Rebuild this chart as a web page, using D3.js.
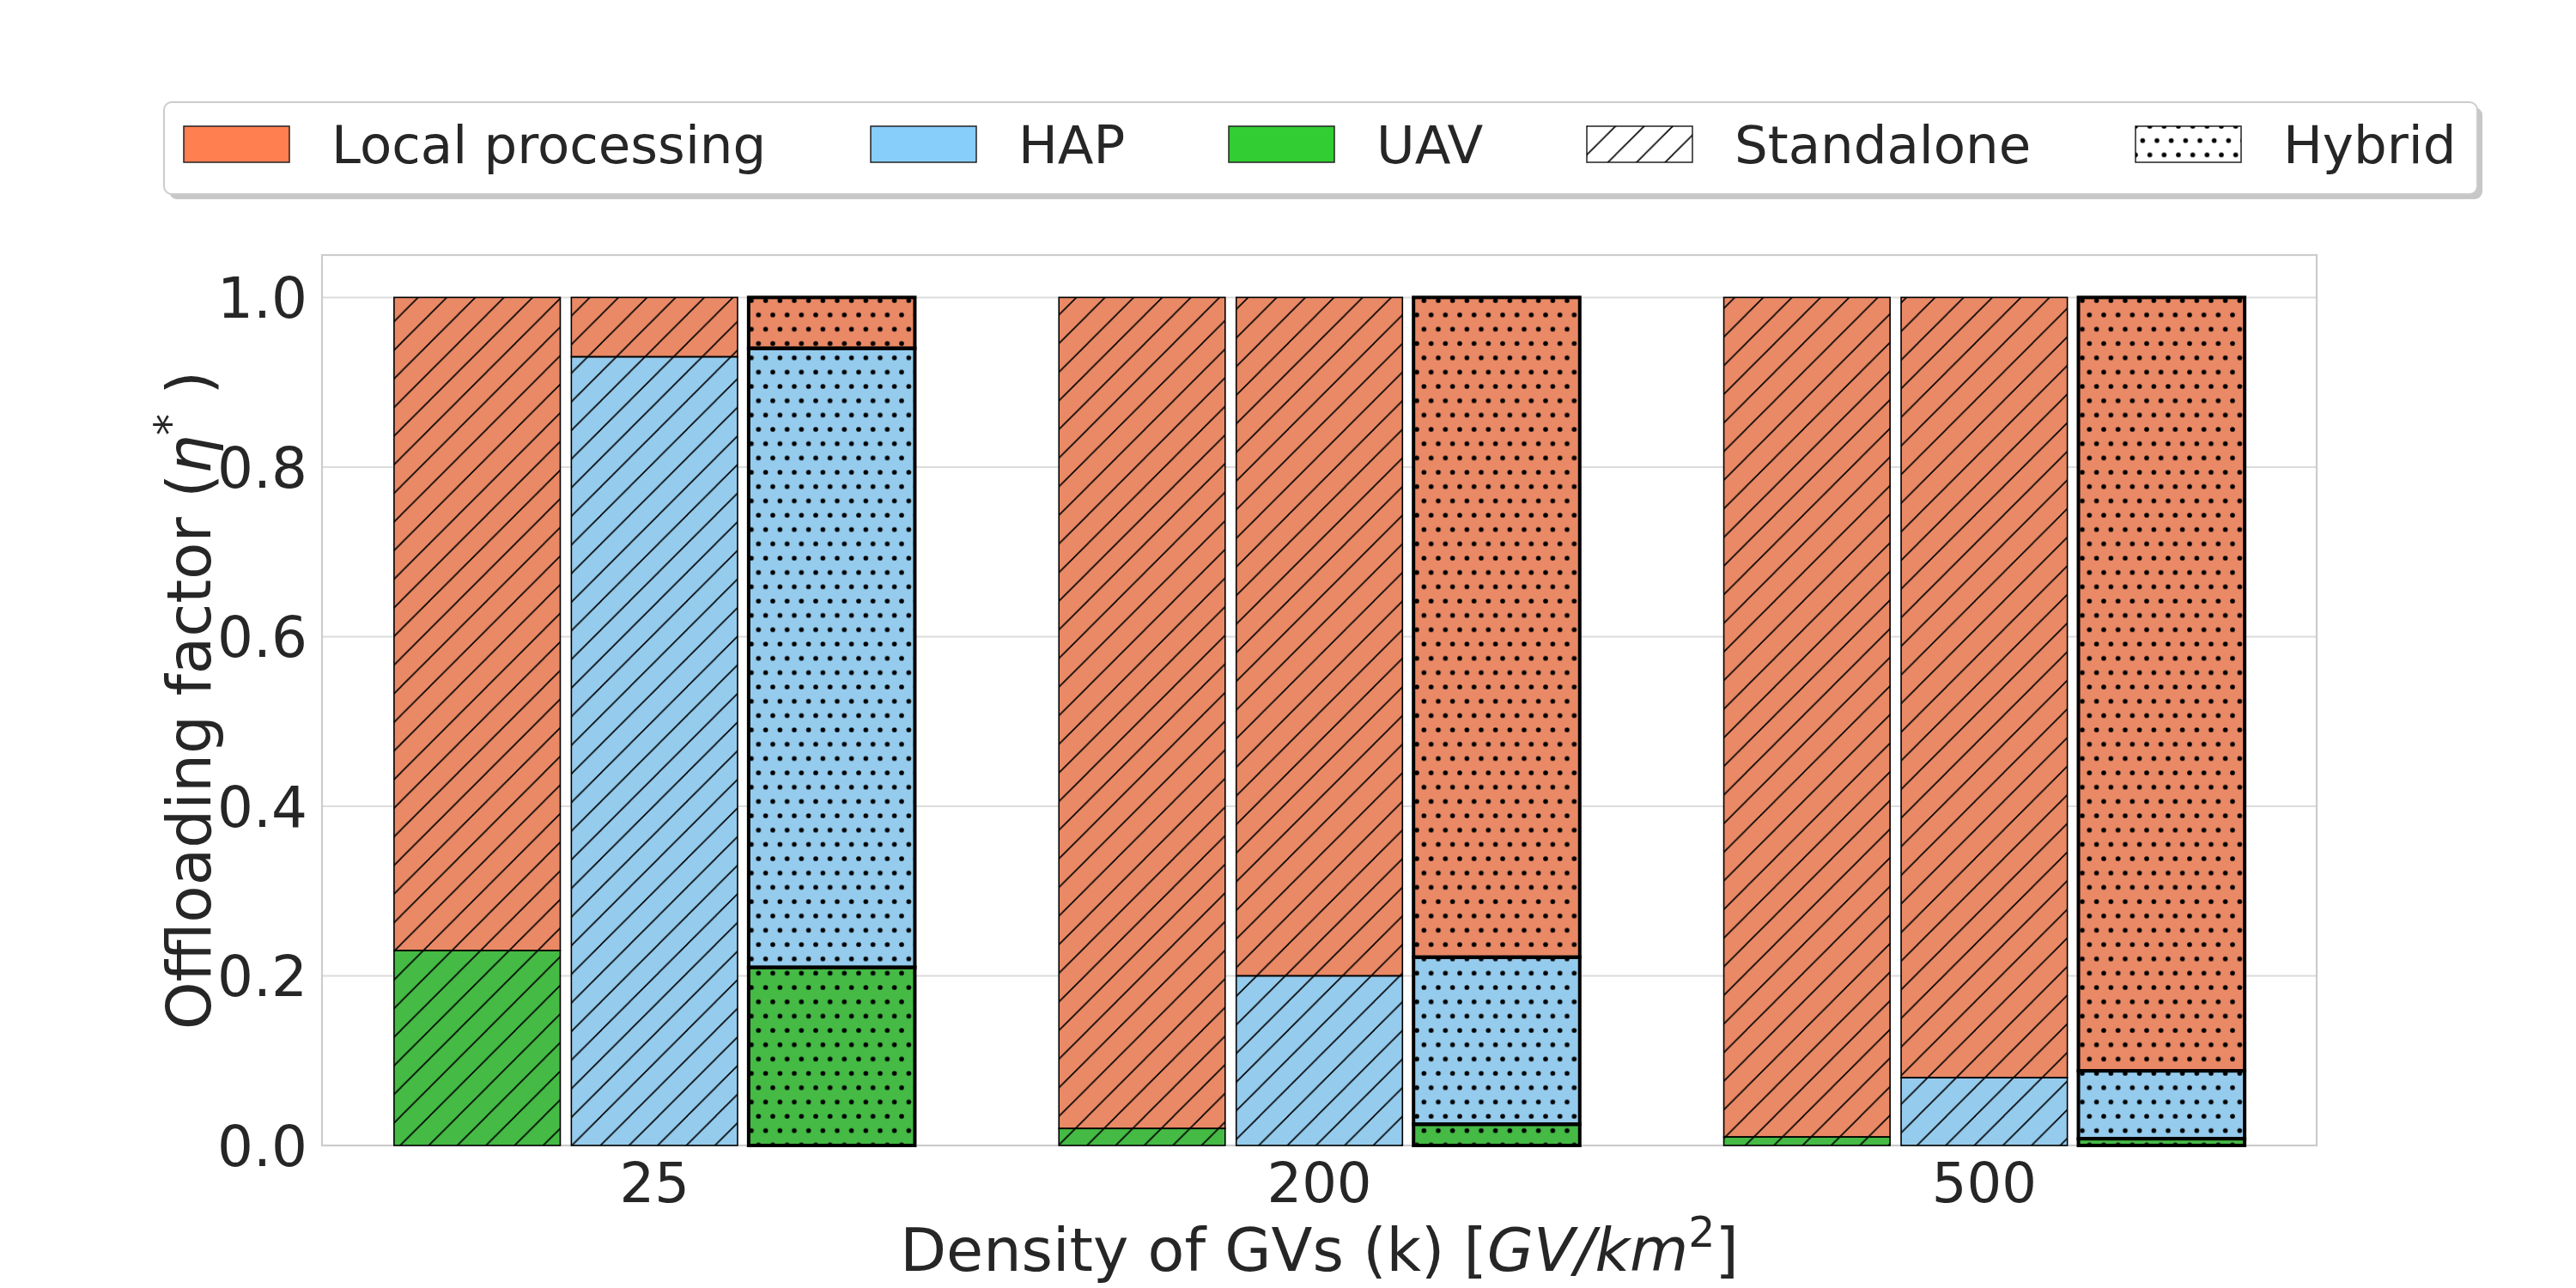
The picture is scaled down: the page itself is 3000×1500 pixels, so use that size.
<!DOCTYPE html>
<html lang="en">
<head>
    <meta charset="UTF-8">
    <title>Offloading factor vs density of GVs</title>
    <script src="https://cdnjs.cloudflare.com/ajax/libs/d3/7.8.5/d3.min.js"></script>
    <style>
        body {
            margin: 0;
            background: #fff;
        }
        svg text {
            font-family: "DejaVu Sans", sans-serif;
            fill: #262626;
        }
    </style>
</head>
<body>
    <svg id="chart" width="3000" height="1500"></svg>

    <script>
        // data
        const densities = ["25", "200", "500"];
        const setups = ["Standalone UAV", "Standalone HAP", "Hybrid"];
        const uavStandalone = [0.23, 0.02, 0.01];
        const hapStandalone = [0.93, 0.20, 0.08];
        const uavHybrid = [0.21, 0.025, 0.008];
        const hapHybrid = [0.73, 0.197, 0.08];
        const yTicks = [0, 0.2, 0.4, 0.6, 0.8, 1.0];

        const legendItems = ["Local processing", "HAP", "UAV", "Standalone", "Hybrid"];
        const baseColors = { Local: "#FF7F50", HAP: "#87CEFA", UAV: "#32CD32" };

        // seaborn barplot desaturates to 0.75
        const desat = c => { const h = d3.hsl(c); h.s *= 0.75; return h.formatHex(); };

        const svg = d3.select("#chart");
        const margin = { left: 375, right: 302, top: 297, bottom: 166 };
        const W = 3000, H = 1500;

        const x = d3.scaleBand()
            .domain(densities)
            .range([margin.left, W - margin.right])
            .padding(0);
        const unit = x.bandwidth();

        const xInner = d3.scaleBand()
            .domain(setups)
            .range([-0.4 * unit, 0.4 * unit])
            .paddingInner(0.0625)
            .paddingOuter(0.03125);

        const y = d3.scaleLinear()
            .domain([0, 1.05])
            .range([H - margin.bottom, margin.top]);

        // hatch patterns
        const defs = svg.append("defs");
        const hs = 200 / 6; // hatch spacing in px
        const diag = defs.append("pattern")
            .attr("id", "hatch-diag")
            .attr("patternUnits", "userSpaceOnUse")
            .attr("width", hs).attr("height", hs);
        [[0, hs, hs, 0], [-hs, hs, hs, -hs], [0, 2 * hs, 2 * hs, 0]].forEach(l => {
            diag.append("line")
                .attr("x1", l[0]).attr("y1", l[1]).attr("x2", l[2]).attr("y2", l[3])
                .attr("stroke", "#000").attr("stroke-width", 1.6);
        });

        const ds = 200 / 12;
        const dots = defs.append("pattern")
            .attr("id", "hatch-dots")
            .attr("patternUnits", "userSpaceOnUse")
            .attr("width", ds).attr("height", 2 * ds);
        [[0, 0], [ds, 0], [0, 2 * ds], [ds, 2 * ds], [ds / 2, ds]].forEach(p => {
            dots.append("circle").attr("cx", p[0]).attr("cy", p[1]).attr("r", 2.8).attr("fill", "#000");
        });

        // grid and frame
        svg.append("g")
            .selectAll("line")
            .data(yTicks)
            .join("line")
            .attr("x1", margin.left).attr("x2", W - margin.right)
            .attr("y1", d => y(d)).attr("y2", d => y(d))
            .attr("stroke", "#dcdcdc").attr("stroke-width", 2);

        svg.append("rect")
            .attr("x", margin.left).attr("y", margin.top)
            .attr("width", W - margin.right - margin.left)
            .attr("height", H - margin.bottom - margin.top)
            .attr("fill", "none").attr("stroke", "#cccccc").attr("stroke-width", 2.2);

        // build the stacked segments
        const segments = [];
        densities.forEach((dens, i) => {
            const stacks = {
                "Standalone UAV": [["UAV", uavStandalone[i]], ["Local", 1 - uavStandalone[i]]],
                "Standalone HAP": [["HAP", hapStandalone[i]], ["Local", 1 - hapStandalone[i]]],
                "Hybrid": [["UAV", uavHybrid[i]], ["HAP", hapHybrid[i]], ["Local", 1 - uavHybrid[i] - hapHybrid[i]]]
            };
            setups.forEach(s => {
                let acc = 0;
                stacks[s].forEach(([key, v]) => {
                    segments.push({ dens, setup: s, key, y0: acc, y1: acc + v });
                    acc += v;
                });
            });
        });

        const barX = d => x(d.dens) + unit / 2 + xInner(d.setup);
        const bw = xInner.bandwidth();

        const bars = svg.append("g");
        bars.selectAll("rect.fill")
            .data(segments)
            .join("rect")
            .attr("class", "fill")
            .attr("x", barX).attr("width", bw)
            .attr("y", d => y(d.y1)).attr("height", d => y(d.y0) - y(d.y1))
            .attr("fill", d => desat(baseColors[d.key]));

        bars.selectAll("rect.hatch")
            .data(segments)
            .join("rect")
            .attr("class", "hatch")
            .attr("x", barX).attr("width", bw)
            .attr("y", d => y(d.y1)).attr("height", d => y(d.y0) - y(d.y1))
            .attr("fill", d => d.setup === "Hybrid" ? "url(#hatch-dots)" : "url(#hatch-diag)")
            .attr("stroke", "#000")
            .attr("stroke-width", d => d.setup === "Hybrid" ? 4 : 1.6);

        // y axis labels
        svg.append("g")
            .selectAll("text")
            .data(yTicks)
            .join("text")
            .attr("x", margin.left - 17)
            .attr("y", d => y(d))
            .attr("dy", "0.36em")
            .attr("text-anchor", "end")
            .attr("font-size", 66)
            .text(d => d.toFixed(1));

        // x axis labels
        svg.append("g")
            .selectAll("text")
            .data(densities)
            .join("text")
            .attr("x", d => x(d) + unit / 2)
            .attr("y", 1400)
            .attr("text-anchor", "middle")
            .attr("font-size", 64)
            .text(d => d);

        // axis titles
        const xt = svg.append("text")
            .attr("x", (margin.left + W - margin.right) / 2)
            .attr("y", 1480)
            .attr("text-anchor", "middle")
            .attr("font-size", 70);
        xt.append("tspan").text("Density of GVs (k) [");
        xt.append("tspan").attr("font-style", "italic").text("GV/km");
        xt.append("tspan").attr("font-size", 49).attr("dy", -28).text("2");
        xt.append("tspan").attr("dy", 28).text("]");

        const yt = svg.append("text")
            .attr("transform", `translate(245, ${(margin.top + H - margin.bottom) / 2}) rotate(-90)`)
            .attr("text-anchor", "middle")
            .attr("font-size", 71);
        yt.append("tspan").text("Offloading factor (");
        yt.append("tspan").attr("font-style", "italic").text("η");
        yt.append("tspan").attr("font-size", 50).attr("dy", -30).text("*");
        yt.append("tspan").attr("dy", 30).text(" )");

        // legend
        const lg = svg.append("g");
        lg.append("rect")
            .attr("x", 197).attr("y", 125).attr("width", 2694).attr("height", 107)
            .attr("rx", 9).attr("fill", "#999").attr("opacity", 0.55);
        lg.append("rect")
            .attr("x", 191).attr("y", 119).attr("width", 2694).attr("height", 107)
            .attr("rx", 9).attr("fill", "#fff").attr("stroke", "#cccccc").attr("stroke-width", 2);

        const handleX = [214, 1014, 1431, 1848, 2487];
        const handleFill = ["#FF7F50", "#87CEFA", "#32CD32", "#fff", "#fff"];
        const handleHatch = [null, null, null, "url(#hatch-diag)", "url(#hatch-dots)"];

        const items = lg.selectAll("g.item")
            .data(legendItems)
            .join("g")
            .attr("class", "item")
            .attr("transform", (d, i) => `translate(${handleX[i]}, 147)`);
        items.append("rect")
            .attr("width", 123).attr("height", 42)
            .attr("fill", (d, i) => handleFill[i])
            .attr("stroke", "#222").attr("stroke-width", 1.5);
        items.filter((d, i) => handleHatch[i])
            .append("rect")
            .attr("width", 123).attr("height", 42)
            .attr("fill", (d, i) => handleHatch[i + 3]);
        items.append("text")
            .attr("x", 172).attr("y", 21).attr("dy", "0.36em")
            .attr("font-size", 61)
            .text(d => d);
    </script>
</body>
</html>
